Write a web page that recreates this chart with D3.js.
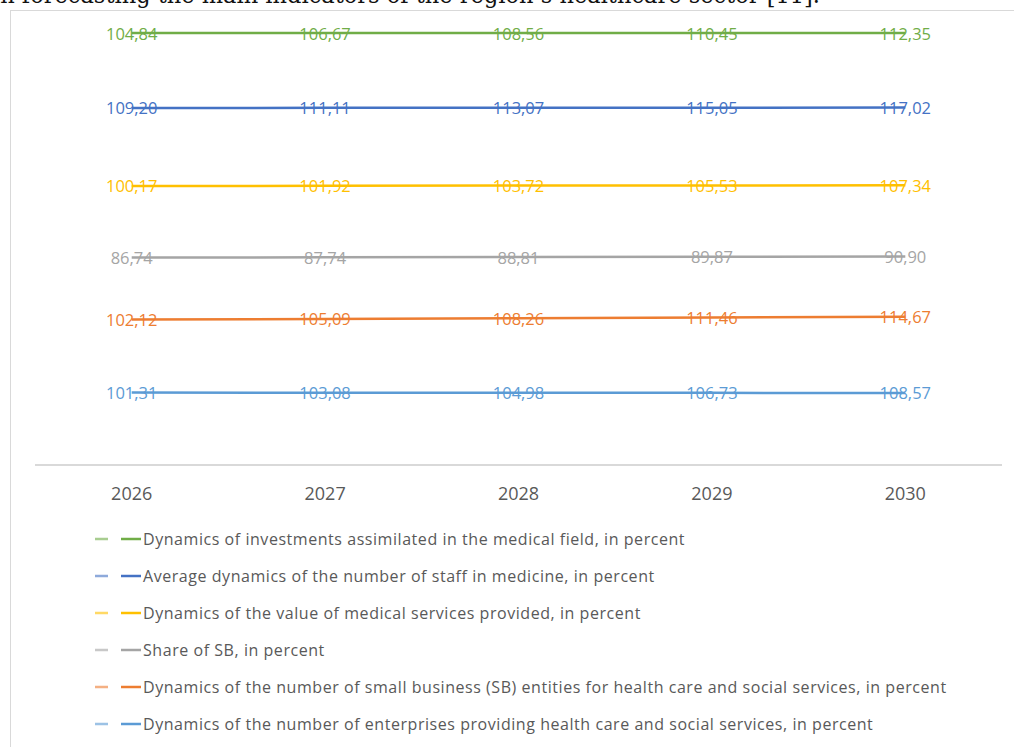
<!DOCTYPE html>
<html>
<head>
<meta charset="utf-8">
<script src="https://cdn.jsdelivr.net/npm/d3@7"></script>
<style>
  body { margin: 0; background: #fff; overflow: hidden; }
  svg { display: block; }
</style>
</head>
<body>
<script>
var w = 1014;
var h = 747;

// years on the category axis
var years = ["2026", "2027", "2028", "2029", "2030"];

// series, bottom of the stack first
var enterprises = [101.31, 103.08, 104.98, 106.73, 108.57];
var smallBusiness = [102.12, 105.09, 108.26, 111.46, 114.67];
var shareSB = [86.74, 87.74, 88.81, 89.87, 90.90];
var servicesValue = [100.17, 101.92, 103.72, 105.53, 107.34];
var staff = [109.20, 111.11, 113.07, 115.05, 117.02];
var investments = [104.84, 106.67, 108.56, 110.45, 112.35];

var seriesNames = [
    "Dynamics of the number of enterprises providing health care and social services, in percent",
    "Dynamics of the number of small business (SB) entities for health care and social services, in percent",
    "Share of SB, in percent",
    "Dynamics of the value of medical services provided, in percent",
    "Average dynamics of the number of staff in medicine, in percent",
    "Dynamics of investments assimilated in the medical field, in percent"
];
var seriesValues = [enterprises, smallBusiness, shareSB, servicesValue, staff, investments];
var colors = ["#5b9bd5", "#ed7d31", "#a5a5a5", "#ffc000", "#4472c4", "#70ad47"];

var svg = d3.select("body").append("svg")
    .attr("width", w)
    .attr("height", h);

// bit of the page text above the chart, cut by the top edge
svg.append("text")
    .attr("x", -7)
    .attr("y", 3)
    .attr("font-family", "'Palatino Linotype', 'Book Antiqua', 'DejaVu Serif', serif")
    .attr("font-size", 25)
    .attr("fill", "#111")
    .attr("textLength", 827)
    .attr("lengthAdjust", "spacingAndGlyphs")
    .text("in forecasting the main indicators of the region\u2019s healthcare sector [11].");

// chart frame
svg.append("rect")
    .attr("x", 10.5)
    .attr("y", 10.5)
    .attr("width", w + 20)
    .attr("height", h + 20)
    .attr("fill", "none")
    .attr("stroke", "#d9d9d9")
    .attr("stroke-width", 1);

var xScale = d3.scalePoint()
    .domain(years)
    .range([35, 1002])
    .padding(0.5);

var yScale = d3.scaleLinear()
    .domain([0, 1])
    .range([465, 33]);

// 100% stacked: each series as a share of the yearly total
var rows = years.map(function (y, i) {
    var r = { year: y };
    seriesValues.forEach(function (s, k) { r[k] = s[i]; });
    return r;
});
var stack = d3.stack()
    .keys(d3.range(seriesValues.length))
    .offset(d3.stackOffsetExpand);
var stacked = stack(rows);

// axis line and year labels
svg.append("line")
    .attr("x1", 35).attr("x2", 1002)
    .attr("y1", 465).attr("y2", 465)
    .attr("stroke", "#d9d9d9")
    .attr("stroke-width", 2);

svg.selectAll(".year")
    .data(years)
    .enter()
    .append("text")
    .attr("class", "year")
    .attr("x", function (d) { return xScale(d); })
    .attr("y", 493)
    .attr("text-anchor", "middle")
    .attr("dominant-baseline", "central")
    .attr("font-family", "'Open Sans', sans-serif")
    .attr("font-size", 18)
    .attr("fill", "#595959")
    .text(function (d) { return d; });

var line = d3.line()
    .x(function (d) { return xScale(d.data.year); })
    .y(function (d) { return yScale(d[1]); });

var groups = svg.selectAll(".series")
    .data(stacked)
    .enter()
    .append("g")
    .attr("class", "series");

groups.append("path")
    .attr("d", line)
    .attr("fill", "none")
    .attr("stroke", function (d, i) { return colors[i]; })
    .attr("stroke-width", 2.5);

groups.selectAll("text")
    .data(function (d, i) {
        return d.map(function (p, j) {
            return { year: p.data.year, y: p[1], v: seriesValues[i][j], c: colors[i] };
        });
    })
    .enter()
    .append("text")
    .attr("x", function (d) { return xScale(d.year); })
    .attr("y", function (d) { return yScale(d.y); })
    .attr("text-anchor", "middle")
    .attr("dominant-baseline", "central")
    .attr("font-family", "'Open Sans', sans-serif")
    .attr("font-size", 16.5)
    .attr("fill", function (d) { return d.c; })
    .text(function (d) { return d.v.toFixed(2).replace(".", ","); });

// legend, top of the stack first
var legendOrder = d3.range(seriesValues.length).reverse();
var legend = svg.selectAll(".legend")
    .data(legendOrder)
    .enter()
    .append("g")
    .attr("class", "legend")
    .attr("transform", function (d, i) { return "translate(0," + (539 + i * 37) + ")"; });

legend.append("line")
    .attr("x1", 95).attr("x2", 108)
    .attr("stroke", function (d) { return colors[d]; })
    .attr("stroke-width", 2.5)
    .attr("opacity", 0.6);

legend.append("line")
    .attr("x1", 121).attr("x2", 141)
    .attr("stroke", function (d) { return colors[d]; })
    .attr("stroke-width", 2.5);

legend.append("text")
    .attr("x", 143)
    .attr("dominant-baseline", "central")
    .attr("font-family", "'Open Sans', sans-serif")
    .attr("font-size", 16)
    .attr("letter-spacing", 0.55)
    .attr("fill", "#595959")
    .text(function (d) { return seriesNames[d]; });
</script>
</body>
</html>
